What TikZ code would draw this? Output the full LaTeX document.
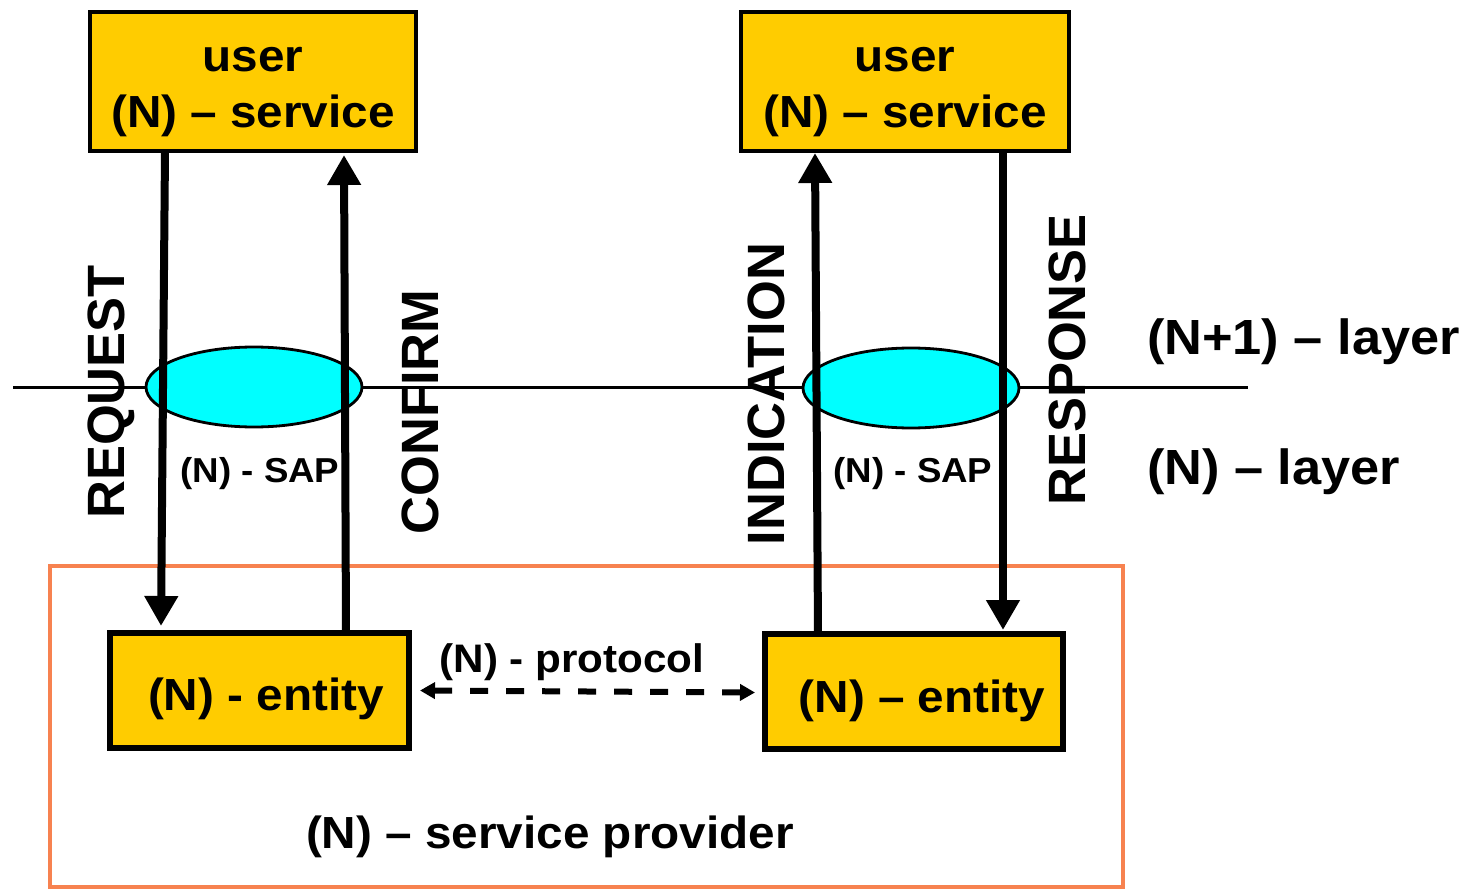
\documentclass[tikz,border=0pt]{standalone}
\usepackage{fontspec}
\newfontfamily\hf[FakeStretch=1.06]{Liberation Sans}
\newfontfamily\vf{Liberation Sans}
\usetikzlibrary{arrows.meta,shapes.geometric,calc}
\definecolor{boxfill}{RGB}{255,204,0}
\definecolor{sapfill}{RGB}{0,255,255}
\definecolor{provline}{RGB}{247,130,80}
\begin{document}
\begin{tikzpicture}[x=1pt,y=-1pt,
  box/.style={draw=black, fill=boxfill, line width=4.5pt, rectangle, inner sep=0pt, outer sep=0pt},
  entbox/.style={box, line width=5.5pt, minimum height=115pt},
  sapshape/.style={ellipse, draw=black, fill=sapfill, line width=2.8pt, minimum width=216pt, minimum height=80pt, inner sep=0pt, outer sep=0pt},
  prim/.style={line width=8pt, -{Triangle[width=32pt,length=30pt]}},
  proto/.style={line width=6pt, dash pattern=on 18pt off 18pt, {Triangle[width=16pt,length=15pt]}-{Triangle[width=16pt,length=15pt]}},
  txt/.style={inner sep=0pt, outer sep=0pt, anchor=base},
  vtxt/.style={inner sep=0pt, outer sep=0pt, rotate=90, font=\vf\bfseries\fontsize{52.5}{60}\selectfont},
  bigtxt/.style={font=\hf\bfseries\fontsize{45}{54}\selectfont},
]
\useasboundingbox (0,0) rectangle (1477,890);
\fill[white] (0,0) rectangle (1477,890);

% service provider frame
\node[draw=provline, line width=3.5pt, rectangle, inner sep=0pt, outer sep=0pt,
      minimum width=1073pt, minimum height=321pt] (prov) at (586.5,726.5) {};

% layer boundary
\coordinate (lineL) at (13,387);
\coordinate (lineR) at (1248,387);
\draw[line width=3pt] (lineL) -- (lineR);

% SAPs
\node[sapshape] (sapL) at (254,387) {};
\node[sapshape] (sapR) at (911,388) {};

% boxes
\node[box, minimum width=326pt, minimum height=139pt] (ul) at (253,81.5) {};
\node[box, minimum width=328pt, minimum height=139pt] (ur) at (905,81.5) {};
\node[entbox, minimum width=299pt] (el) at (259.5,690.5) {};
\node[entbox, minimum width=298pt] (er) at (914,691.5) {};

% primitives
\draw[prim] ([xshift=75pt]ul.south west) -- ([xshift=51pt,yshift=7pt]el.north west);
\draw[prim] ([xshift=236pt]el.north west) -- ([xshift=254pt,yshift=-4pt]ul.south west);
\draw[prim] ([xshift=53pt]er.north west) -- ([xshift=74pt,yshift=-2pt]ur.south west);
\draw[prim] ([xshift=262pt]ur.south west) -- ([xshift=238pt,yshift=4pt]er.north west);

% protocol
\draw[proto] ([xshift=11pt]el.east) -- ([xshift=-10pt,yshift=-1pt]er.west);

% texts in boxes
\node[txt, bigtxt] (ulA) at (253,72) {user};
\node[txt, bigtxt] (ulB) at (253,128) {(N) – service};
\node[txt, bigtxt] (urA) at (905,72) {user};
\node[txt, bigtxt] (urB) at (905,128) {(N) – service};
\node[txt, bigtxt] (elT) at (266,710) {(N) - entity};
\node[txt, bigtxt] (erT) at (922,712) {(N) – entity};

% SAP labels
\node[txt, font=\hf\bfseries\fontsize{34.6}{40}\selectfont] (sapLT) at (260,482) {(N) - SAP};
\node[txt, font=\hf\bfseries\fontsize{34.6}{40}\selectfont] (sapRT) at (913,482) {(N) - SAP};

% protocol label
\node[txt, font=\hf\bfseries\fontsize{39.8}{46}\selectfont] (protoT) at (572,672) {(N) - protocol};

% provider label
\node[txt, bigtxt] (provT) at (550,848) {(N) – service provider};

% layer labels
\node[txt, anchor=base west, font=\hf\bfseries\fontsize{49.4}{58}\selectfont] (layN1) at (1147,355) {(N+1) – layer};
\node[txt, anchor=base west, font=\hf\bfseries\fontsize{49.4}{58}\selectfont] (layN) at (1147,484) {(N) – layer};

% primitive labels
\node[vtxt] (reqT) at (111,392) {REQUEST};
\node[vtxt] (conT) at (420,412) {CONFIRM};
\node[vtxt] (indT) at (766,394) {INDICATION};
\node[vtxt] (resT) at (1067,360) {RESPONSE};
\end{tikzpicture}
\end{document}
